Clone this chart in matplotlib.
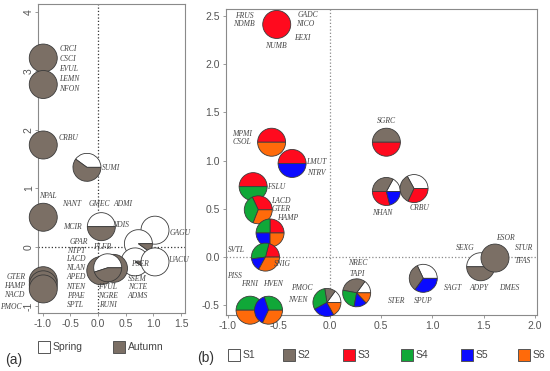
import matplotlib.pyplot as plt
from matplotlib.patches import Wedge, Rectangle
from matplotlib.transforms import ScaledTranslation

plt.rcParams['axes.unicode_minus'] = False
plt.rcParams['font.family'] = ['Liberation Sans', 'DejaVu Sans']

# colours
season_colors = ['white', '#7b6f65']            # Spring, Autumn
site_colors = ['white', '#7b6f65', '#ff0a1e', '#10a838', '#0a0aff', '#ff6a0a']  # S1..S6
season_names = ['Spring', 'Autumn']
site_names = ['S1', 'S2', 'S3', 'S4', 'S5', 'S6']

# ---- panel (a): pies (x, y, [spring, autumn])
a_x = [-0.99, -0.99, -0.99, -0.20, -0.99, 0.06, 1.03, 0.73, 0.67, 1.03,
       0.05, 0.28, 0.175, -0.99, -0.99, -0.99]
a_y = [3.22, 2.77, 1.74, 1.36, 0.51, 0.35, 0.29, 0.06, -0.25, -0.25,
       -0.40, -0.36, -0.35, -0.57, -0.64, -0.71]
a_frac = [[0, 1], [0, 1], [0, 1], [0.4, 0.6], [0, 1], [0.5, 0.5], [1, 0],
          [0.9, 0.1], [0.92, 0.08], [1, 0], [0, 1], [0, 1], [0.55, 0.45],
          [0, 1], [0, 1], [0, 1]]

a_labels = ['CRCI', 'CSCI', 'EVUL', 'LEMN', 'NFON', 'CRBU', 'SUMI', 'NPAL',
            'NANT', 'GMEC', 'ADMI', 'MCIR', 'NDIS', 'GAGU', 'UACU', 'PSER',
            'GPAR', 'PLFB', 'NTPT', 'LACD', 'NLAN', 'APED', 'NTEN', 'PPAE',
            'SPTL', 'FVUL', 'NGRE', 'RUNI', 'SSEM', 'NCTE', 'ADMS',
            'GTER', 'HAMP', 'NACD', 'PMOC']
a_lab_x = [-0.54, -0.54, -0.54, -0.52, -0.52, -0.54, 0.24, -0.90,
           -0.47, 0.02, 0.45, -0.47, 0.40, 1.48, 1.45, 0.76,
           -0.34, 0.07, -0.40, -0.40, -0.40, -0.40, -0.40, -0.40,
           -0.40, 0.18, 0.18, 0.18, 0.71, 0.71, 0.71,
           -1.48, -1.50, -1.52, -1.58]
a_lab_y = [3.37, 3.20, 3.03, 2.86, 2.69, 1.86, 1.34, 0.87,
           0.73, 0.73, 0.73, 0.34, 0.37, 0.24, -0.22, -0.29,
           0.09, 0.0, -0.07, -0.20, -0.36, -0.51, -0.68, -0.83,
           -0.99, -0.68, -0.83, -0.99, -0.54, -0.68, -0.83,
           -0.51, -0.66, -0.82, -1.02]

# ---- panel (b): pies (x, y, [S1..S6])
b_x = [-0.52, -0.57, -0.37, -0.75, -0.70, -0.585, -0.63, -0.78, -0.60,
       -0.03, 0.26, 0.55, 0.55, 0.82, 0.91, 1.47, 1.61]
b_y = [2.41, 1.19, 0.97, 0.73, 0.49, 0.25, 0.0, -0.55, -0.55,
       -0.47, -0.37, 1.19, 0.68, 0.71, -0.22, -0.10, -0.01]
b_frac = [[0, 0, 1, 0, 0, 0],
          [0, 0, 0.5, 0, 0, 0.5],
          [0, 0, 0.5, 0, 0.5, 0],
          [0, 0, 0.5, 0.5, 0, 0],
          [0, 0, 0.32, 0.37, 0, 0.31],
          [0, 0, 0.25, 0.25, 0.25, 0.25],
          [0, 0, 0.21, 0.31, 0.15, 0.33],
          [0, 0, 0, 0.5, 0, 0.5],
          [0, 0, 0, 0.30, 0.38, 0.32],
          [0.15, 0.125, 0, 0.305, 0.25, 0.17],
          [0.15, 0.32, 0, 0.25, 0.15, 0.13],
          [0, 0.5, 0.5, 0, 0, 0],
          [0.17, 0.33, 0.29, 0, 0.21, 0],
          [0.33, 0.35, 0.32, 0, 0, 0],
          [0.32, 0.33, 0, 0, 0.35, 0],
          [0.5, 0.5, 0, 0, 0, 0],
          [0, 1, 0, 0, 0, 0]]

b_labels = ['FRUS', 'NDMB', 'GADC', 'NICO', 'EEXI', 'NUMB', 'MPMI', 'CSOL',
            'LMUT', 'NTRV', 'FSLU', 'LACD', 'GTER', 'HAMP', 'SVTL', 'SNIG',
            'PISS', 'FRNI', 'HVEN', 'PMOC', 'NVEN', 'NREC', 'TAPI', 'SGRC',
            'NHAN', 'CRBU', 'ESOR', 'SEXG', 'STUR', 'TFAS', 'SAGT', 'ADPY',
            'DMES', 'STER', 'SPUP']
b_lab_x = [-0.84, -0.84, -0.22, -0.24, -0.27, -0.53, -0.86, -0.86,
           -0.13, -0.13, -0.53, -0.48, -0.48, -0.41, -0.91, -0.46,
           -0.93, -0.79, -0.56, -0.27, -0.31, 0.27, 0.27, 0.55,
           0.51, 0.87, 1.71, 1.32, 1.89, 1.88, 1.20, 1.45,
           1.75, 0.65, 0.91]
b_lab_y = [2.50, 2.41, 2.51, 2.41, 2.27, 2.19, 1.28, 1.19,
           0.98, 0.87, 0.73, 0.58, 0.50, 0.41, 0.07, -0.07,
           -0.20, -0.28, -0.28, -0.32, -0.44, -0.06, -0.18, 1.41,
           0.46, 0.51, 0.20, 0.09, 0.09, -0.04, -0.32, -0.32,
           -0.32, -0.45, -0.45]

fig = plt.figure(figsize=(5.5, 3.71), dpi=100)
ax_a = fig.add_axes([0.0691, 0.1563, 0.2673, 0.8329])
ax_b = fig.add_axes([0.4109, 0.1509, 0.5655, 0.8248])


def draw_pie(ax, x, y, fracs, colors, r=0.14):
    # circle of fixed size (inches) placed at a data point
    trans = fig.dpi_scale_trans + ScaledTranslation(x, y, ax.transData)
    start = 0.0
    for f, c in zip(fracs, colors):
        if f <= 0:
            continue
        end = start + 360 * f
        ax.add_patch(Wedge((0, 0), r, start, end, transform=trans,
                           facecolor=c, edgecolor='#3a3a3a', lw=0.6,
                           clip_on=False, zorder=3))
        start = end


def style_axes(ax, lc):
    for s in ax.spines.values():
        s.set_color('#8a8a8a')
        s.set_linewidth(0.8)
    ax.tick_params(labelsize=7.5, colors='#8a8a8a', labelcolor='#555555',
                   length=2.5, width=0.6, pad=2)
    ax.axhline(0, color=lc, ls=':', lw=0.9, zorder=1)
    ax.axvline(0, color=lc, ls=':', lw=0.9, zorder=1)


lab_style = dict(ha='center', va='center', fontsize=5.5, style='italic',
                 family='Liberation Serif', color='#444444', clip_on=False,
                 zorder=4)

# panel (a)
style_axes(ax_a, '#333333')
for x, y, fr in zip(a_x, a_y, a_frac):
    draw_pie(ax_a, x, y, fr, season_colors)
for s, x, y in zip(a_labels, a_lab_x, a_lab_y):
    ax_a.text(x, y, s, **lab_style)
ax_a.set_xlim(-1.085, 1.573)
ax_a.set_ylim(-1.12, 4.14)
ax_a.set_xticks([-1.0, -0.5, 0.0, 0.5, 1.0, 1.5])
ax_a.set_xticklabels(['-1.0', '-0.5', '0.0', '0.5', '1.0', '1.5'])
ax_a.set_yticks([-1, 0, 1, 2, 3, 4])
ax_a.set_yticklabels(['-1', '0', '1', '2', '3', '4'], rotation=90, va='center')
ax_a.tick_params(axis='y', pad=0.5)

# panel (b)
style_axes(ax_b, '#8a8a8a')
for x, y, fr in zip(b_x, b_y, b_frac):
    draw_pie(ax_b, x, y, fr, site_colors)
for s, x, y in zip(b_labels, b_lab_x, b_lab_y):
    ax_b.text(x, y, s, **lab_style)
ax_b.set_xlim(-1.015, 2.02)
ax_b.set_ylim(-0.60, 2.57)
ax_b.set_xticks([-1.0, -0.5, 0.0, 0.5, 1.0, 1.5, 2.0])
ax_b.set_xticklabels(['-1.0', '-0.5', '0.0', '0.5', '1.0', '1.5', '2.0'])
ax_b.set_yticks([-0.5, 0.0, 0.5, 1.0, 1.5, 2.0, 2.5])
ax_b.set_yticklabels(['-0.5', '0.0', '0.5', '1.0', '1.5', '2.0', '2.5'])

# legends drawn as boxes + text in figure pixels
W, H = 550, 371


def legend_item(px, py, color, text):
    fig.patches.append(Rectangle((px / W, 1 - (py + 6) / H), 12 / W, 12 / H,
                                 transform=fig.transFigure, facecolor=color,
                                 edgecolor='#555555', lw=0.7))
    fig.text((px + 15) / W, 1 - py / H, text, fontsize=7.5, color='#444444',
             va='center', ha='left')


for px, c, t in zip([38, 113], season_colors, season_names):
    legend_item(px, 347, c, t)
for px, c, t in zip([228, 283, 343, 401, 461, 518], site_colors, site_names):
    legend_item(px, 355, c, t)

fig.text(5 / W, 1 - 360 / H, '(a)', fontsize=10, color='#333333', va='center')
fig.text(197 / W, 1 - 358 / H, '(b)', fontsize=10, color='#333333', va='center')

fig.savefig('out.png', dpi=100)
